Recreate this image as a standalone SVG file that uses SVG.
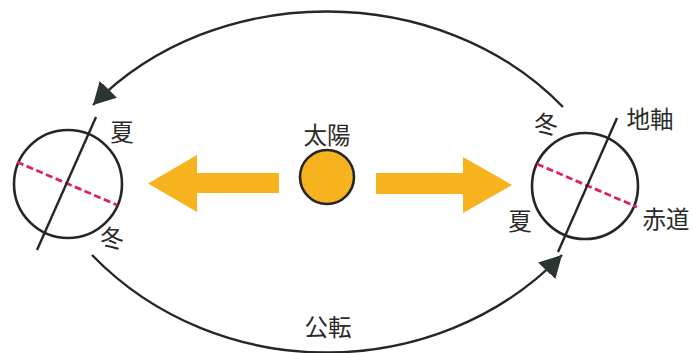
<svg xmlns="http://www.w3.org/2000/svg" width="693" height="353" viewBox="0 0 693 353">
  <style>
    .label { font-family: "Noto Sans CJK JP", "Noto Sans", sans-serif; font-size: 23.5px; fill: #2a2a2a; text-anchor: middle; dominant-baseline: central; }
    .globe { fill: none; stroke: #262626; stroke-width: 2.6; }
    .axis { stroke: #262626; stroke-width: 2.4; }
    .equator { stroke: #e0245a; stroke-width: 2.8; stroke-dasharray: 7 3.5; }
    .orbit { fill: none; stroke: #262626; stroke-width: 2.4; }
    .ray { fill: #f6b31e; }
  </style>
  <defs>
    <marker id="head" markerUnits="userSpaceOnUse" markerWidth="30" markerHeight="30" refX="22" refY="12" orient="auto">
      <path d="M0,0 L22,12 L0,24 Z" fill="#2b3534"/>
    </marker>
  </defs>

  <g id="connectors">
    <!-- orbit, upper half, running right to left -->
    <path class="orbit" d="M563,107 C440,-20 215,-20 93,105" marker-end="url(#head)"/>
    <!-- orbit, lower half, running left to right -->
    <path class="orbit" d="M92,255 C218,385 436,385 562,255" marker-end="url(#head)"/>
  </g>

  <g id="sun">
    <circle cx="327" cy="177" r="27" fill="#f6b31e" stroke="#262626" stroke-width="2.6"/>
    <text class="label" x="327" y="134">太陽</text>
  </g>

  <g id="ray-left">
    <polygon class="ray" points="279,173 197,173 197,155 148,183.5 197,212 197,193 279,193"/>
  </g>
  <g id="ray-right">
    <polygon class="ray" points="376,173 463,173 463,157 512,185 463,213 463,194 376,194"/>
  </g>

  <g id="earth-left">
    <circle class="globe" cx="68" cy="184" r="54"/>
    <line class="equator" x1="17" y1="162" x2="117" y2="205"/>
    <line class="axis" x1="96" y1="117" x2="37" y2="250"/>
    <text class="label" x="122" y="131">夏</text>
    <text class="label" x="112" y="237">冬</text>
  </g>

  <g id="earth-right">
    <circle class="globe" cx="585" cy="186" r="53"/>
    <line class="equator" x1="537" y1="164" x2="637" y2="207"/>
    <line class="axis" x1="617" y1="118" x2="558" y2="252"/>
    <text class="label" x="546" y="123">冬</text>
    <text class="label" x="520" y="220">夏</text>
    <text class="label" x="650" y="118">地軸</text>
    <text class="label" x="666" y="218">赤道</text>
  </g>

  <g id="revolution-label">
    <text class="label" x="328" y="326">公転</text>
  </g>
</svg>
